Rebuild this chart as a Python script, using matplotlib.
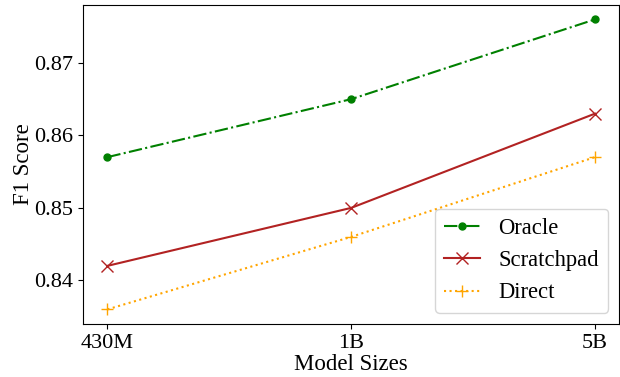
import matplotlib
matplotlib.use("Agg")
import matplotlib.pyplot as plt

sizes = ["430M", "1B", "5B"]
oracle = [0.857, 0.865, 0.876]
scratchpad = [0.842, 0.850, 0.863]
direct = [0.836, 0.846, 0.857]

plt.rcParams['font.family'] = ['Liberation Serif', 'DejaVu Serif']
plt.rcParams['mathtext.fontset'] = 'stix'

fig = plt.figure(figsize=(6.2, 3.77), dpi=100)
ax = fig.add_axes([0.134, 0.141, 0.865, 0.846])
x = range(len(sizes))
ax.plot(x, oracle, color='green', linestyle='-.', marker='o', markersize=5, label='Oracle')
ax.plot(x, scratchpad, color='firebrick', linestyle='-', marker='x', markersize=8, label='Scratchpad')
ax.plot(x, direct, color='orange', linestyle=':', marker='+', markersize=8, label='Direct')
ax.set_xticks(list(x))
ax.set_xticklabels(sizes)
ax.set_yticks([0.84, 0.85, 0.86, 0.87])
ax.tick_params(labelsize=16)
ax.set_xlabel('Model Sizes', fontsize=16.5, labelpad=1)
ax.set_ylabel('F1 Score', fontsize=16.5, labelpad=0)
ax.legend(loc='lower right', fontsize=16.3, handlelength=1.6)
fig.savefig('out.png', dpi=100)
